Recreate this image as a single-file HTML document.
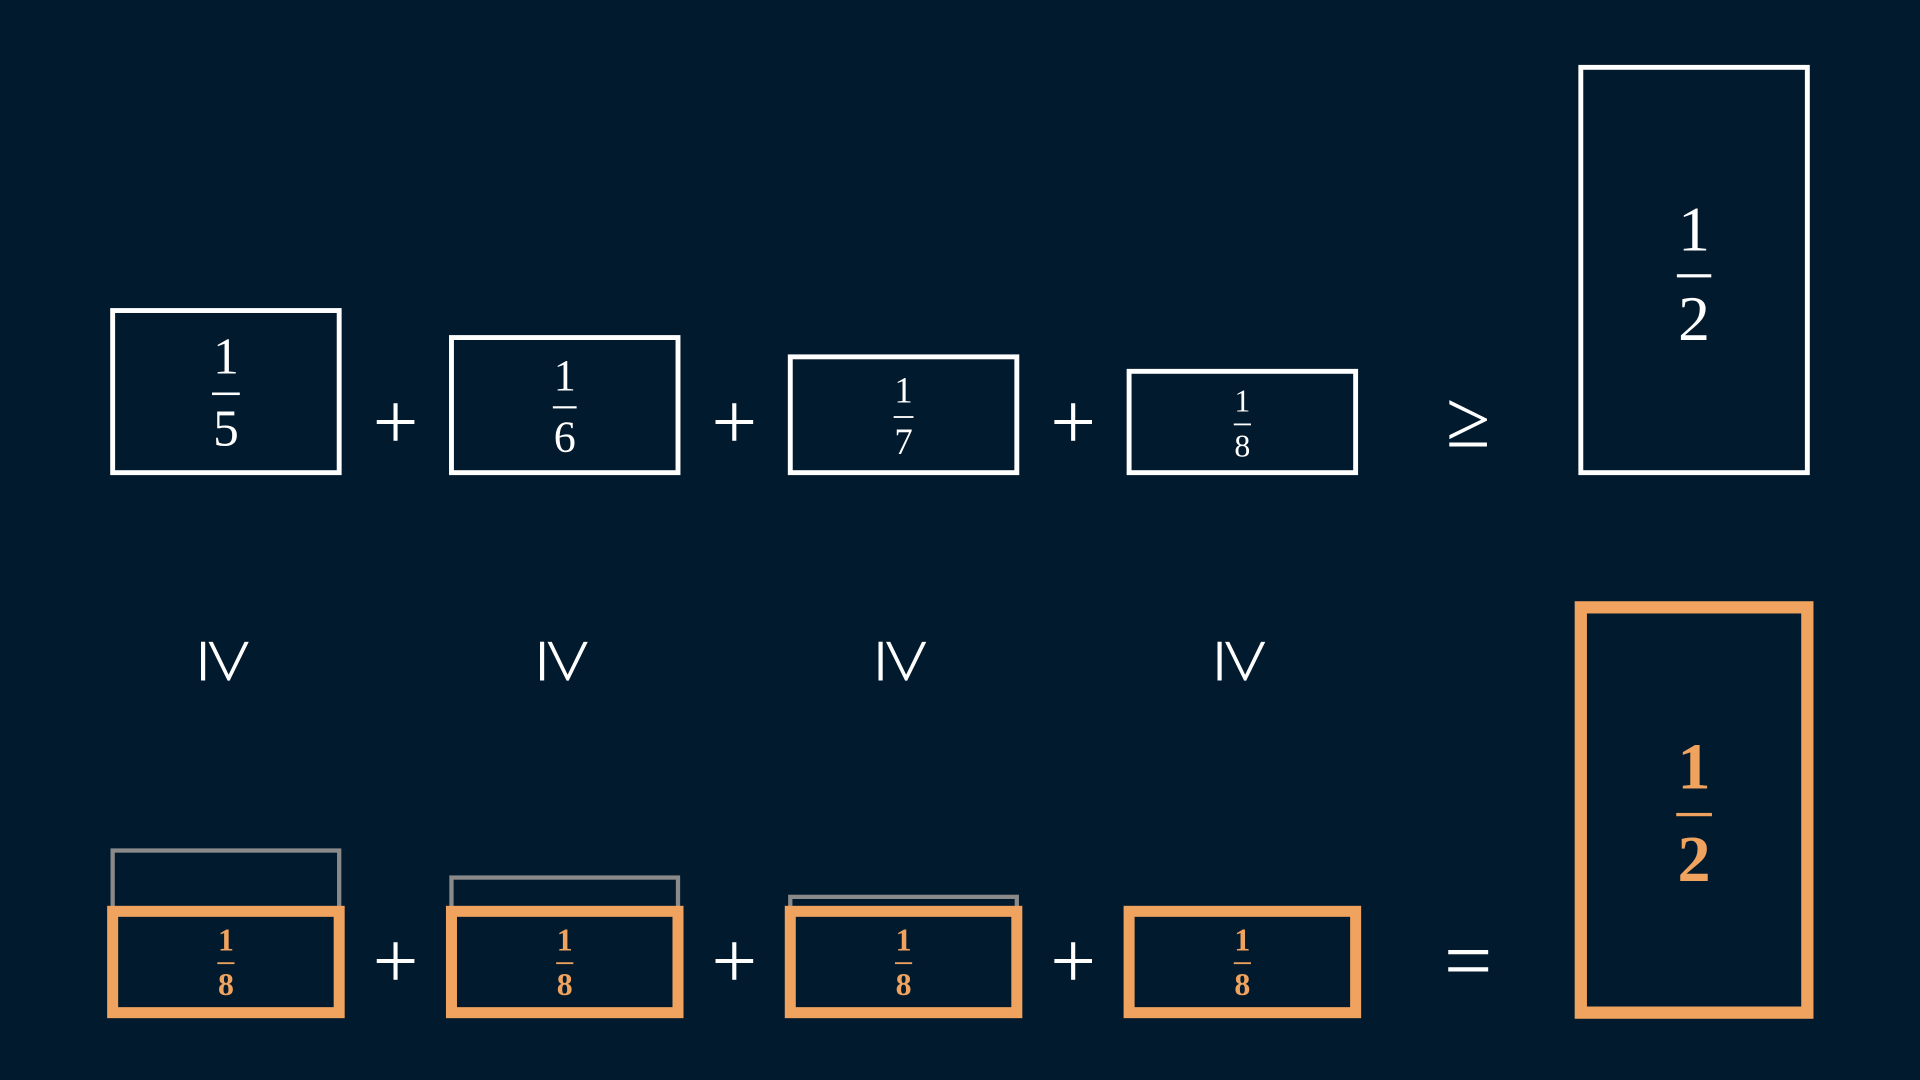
<!DOCTYPE html>
<html><head><meta charset="utf-8"><style>
html,body{margin:0;padding:0;background:#021a2d;}
svg{display:block;}
text{font-family:"Liberation Serif",serif;text-anchor:middle;}
</style></head><body>
<svg id="chart" width="1920" height="1080" viewBox="0 0 1568 882" xmlns="http://www.w3.org/2000/svg">
<rect x="0" y="0" width="1568" height="882" fill="#021a2d"/>
</svg>
<script>
const denominators = [5, 6, 7, 8];
const targetDenominator = 2;
const bottomDenominator = 8;
const topFontSizes = [42, 36, 30, 26];

const svg = document.getElementById('chart');
const NS = 'http://www.w3.org/2000/svg';
const WHITE = '#ffffff', ORANGE = '#f0a35e', GRAY = '#8a8a8a';
const BASE = 386, BOTTOM_BASE = 827, SCALE = 662, BOX_W = 185;
const xLeft = i => 92 + i * 276.7;
const hOf = d => SCALE / d;

function mk(tag, attrs) { const e = document.createElementNS(NS, tag); for (const k in attrs) e.setAttribute(k, attrs[k]); svg.appendChild(e); return e; }

function fraction(cx, cy, d, fs, color, bold, name) {
  const g = document.createElementNS(NS, 'g');
  
  
  svg.appendChild(g);
  const n = document.createElementNS(NS, 'text');
  n.setAttribute('x', cx); n.setAttribute('y', cy - 0.4 * fs); n.setAttribute('font-size', fs); n.setAttribute('fill', color);
  if (bold) n.setAttribute('font-weight', 'bold');
  n.textContent = '1'; g.appendChild(n);
  const l = document.createElementNS(NS, 'rect');
  l.setAttribute('x', cx - 0.27 * fs); l.setAttribute('y', cy - 0.03 * fs); l.setAttribute('width', 0.54 * fs); l.setAttribute('height', Math.max(1.5, 0.05 * fs)); l.setAttribute('fill', color);
  g.appendChild(l);
  const dn = document.createElementNS(NS, 'text');
  dn.setAttribute('x', cx); dn.setAttribute('y', cy + 1.0 * fs); dn.setAttribute('font-size', fs); dn.setAttribute('fill', color);
  if (bold) dn.setAttribute('font-weight', 'bold');
  dn.textContent = String(d); g.appendChild(dn);
}

function symbol(x, y, ch, fs, name, rot, dy) {
  const t = mk('text', {x: x, y: y + fs * dy, 'font-size': fs, fill: WHITE, 'font-family': '"DejaVu Sans", sans-serif', 'font-weight': '200'});
  if (rot) t.setAttribute('transform', 'rotate(' + rot + ' ' + x + ' ' + y + ')');
  
  
  t.textContent = ch;
}

// top row
denominators.forEach((d, i) => {
  const h = hOf(d), x = xLeft(i);
  const r = mk('rect', {x: x, y: BASE - h, width: BOX_W, height: h, fill: 'none', stroke: WHITE, 'stroke-width': 4});
  
  
  fraction(x + BOX_W / 2, BASE - h / 2 + 2, d, topFontSizes[i], WHITE, false, 'top-fraction-1-' + d);
  if (i < denominators.length - 1) symbol(x + BOX_W + 46, 345, '+', 66, 'plus-sign-top', 0, 0.33);
  symbol(x + BOX_W / 2, 540, '≥', 68, 'geq-vertical', 90, 0.3);
});
symbol(1199, 345, '≥', 66, 'geq-sign', 0, 0.3);
{
  const h = hOf(targetDenominator), x = 1291;
  const r = mk('rect', {x: x, y: BASE - h, width: BOX_W, height: h, fill: 'none', stroke: WHITE, 'stroke-width': 4});
  
  
  fraction(x + BOX_W / 2, BASE - h / 2 + 5, targetDenominator, 52, WHITE, false, 'top-fraction-half');
}

// bottom row
denominators.forEach((d, i) => {
  const x = xLeft(i);
  if (d !== bottomDenominator) {
    const h = hOf(d);
    const g = mk('rect', {x: x, y: BOTTOM_BASE - h, width: BOX_W, height: h, fill: 'none', stroke: GRAY, 'stroke-width': 3.5});
    
    
  }
  const hb = hOf(bottomDenominator);
  const r = mk('rect', {x: x, y: BOTTOM_BASE - hb, width: BOX_W, height: hb, fill: '#021a2d', stroke: ORANGE, 'stroke-width': 9});
  
  
  fraction(x + BOX_W / 2, BOTTOM_BASE - hb / 2 + 1, bottomDenominator, 26, ORANGE, true, 'bottom-fraction-1-8');
  if (i < denominators.length - 1) symbol(x + BOX_W + 46, 785, '+', 66, 'plus-sign-bottom', 0, 0.33);
});
symbol(1199, 785, '=', 70, 'equals-sign', 0, 0.33);
{
  const h = hOf(targetDenominator), x = 1291;
  const r = mk('rect', {x: x, y: BOTTOM_BASE - h, width: BOX_W, height: h, fill: 'none', stroke: ORANGE, 'stroke-width': 10});
  
  
  fraction(x + BOX_W / 2, BOTTOM_BASE - h / 2 + 4, targetDenominator, 54, ORANGE, true, 'bottom-fraction-half');
}
</script>
</body></html>
